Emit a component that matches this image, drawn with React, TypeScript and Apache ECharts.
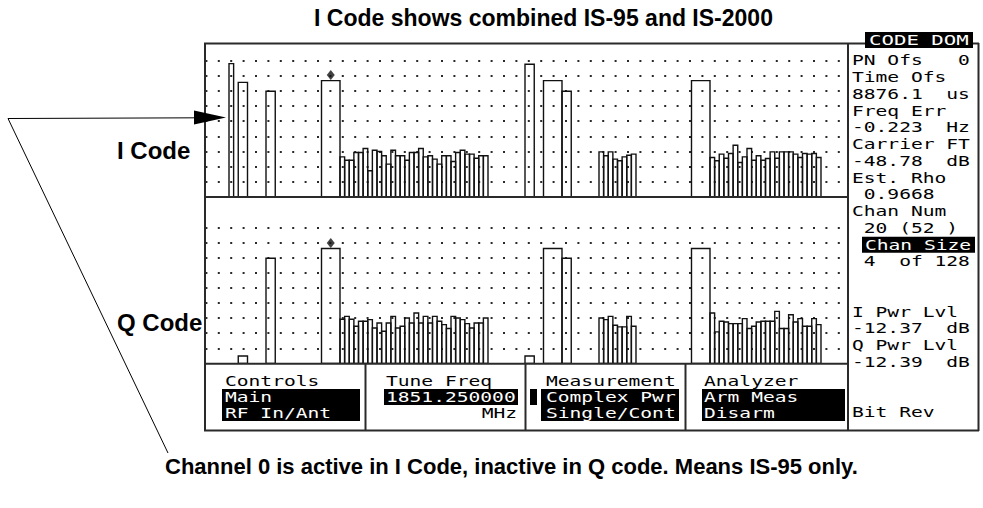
import React, { useEffect, useRef } from "react";
import * as echarts from "echarts";

// ---------- texts ----------
const TITLE = "I Code shows combined IS-95 and IS-2000";
const LABEL_I = "I Code";
const LABEL_Q = "Q Code";
const NOTE = "Channel 0 is active in I Code, inactive in Q code. Means IS-95 only.";

// ---------- code-domain data (levels in screen divisions) ----------
const X_MIN = -5.19;
const X_MAX = 133.84;

// I code: wide (multi-channel) codes
const I_WIDE_START = [0, 2, 8, 20, 64, 68, 72, 100];
const I_WIDE_SIZE = [1, 2, 2, 4, 2, 4, 2, 4];
const I_WIDE_LEVEL = [8.8, 7.56, 6.98, 7.68, 8.76, 7.68, 6.98, 7.68];
// I code: runs of single-channel codes
const I_RUN_A_START = 24;
const I_RUN_A = [2.64, 2.42, 2.42, 2.93, 2.93, 3.19, 1.72, 3.08, 2.99, 2.71, 2.16, 3.08, 2.71, 2.71, 2.42, 2.93, 2.93, 3.19, 2.64, 2.71, 2.49, 2.16, 2.71, 2.71, 2.33, 2.93, 3.08, 2.82, 2.82, 2.55, 2.71, 2.71];
const I_RUN_B_START = 80;
const I_RUN_B = [2.97, 2.71, 2.97, 2.49, 2.38, 2.64, 2.75, 2.82];
const I_RUN_C_START = 104;
const I_RUN_C = [2.6, 2.38, 2.82, 2.55, 2.86, 3.41, 2.27, 2.64, 3.19, 2.42, 2.71, 2.42, 2.53, 2.97, 2.55, 2.97, 2.97, 2.97, 2.82, 2.6, 2.86, 2.82, 2.86, 2.6];

// Q code
const Q_WIDE_START = [2, 8, 20, 64, 68, 72, 100];
const Q_WIDE_SIZE = [2, 2, 4, 2, 4, 2, 4];
const Q_WIDE_LEVEL = [0.49, 6.97, 7.62, 0.49, 7.62, 6.97, 7.62];
const Q_RUN_A_START = 24;
const Q_RUN_A = [2.93, 3.12, 2.93, 2.46, 2.79, 2.79, 2.9, 2.35, 2.68, 2.13, 2.68, 3.12, 2.35, 2.46, 3.01, 2.68, 3.34, 2.68, 3.12, 2.68, 3.12, 2.79, 2.57, 2.31, 3.12, 3.01, 2.9, 2.64, 2.35, 2.68, 2.68, 3.01];
const Q_RUN_B_START = 80;
const Q_RUN_B = [3.01, 2.9, 3.12, 2.53, 2.42, 2.42, 3.12, 2.46];
const Q_RUN_C_START = 104;
const Q_RUN_C = [3.34, 2.09, 2.79, 2.75, 2.64, 2.64, 2.64, 2.97, 2.31, 2.46, 2.75, 2.79, 2.79, 2.79, 3.45, 2.31, 2.31, 3.23, 2.75, 2.97, 2.46, 2.46, 2.97, 2.57];

// selected channel marker
const MARKER_CHANNEL = 22;
const I_MARKER_LEVEL = 8.05;
const Q_MARKER_LEVEL = 7.98;

// ---------- instrument readouts ----------
const READOUT_TEXT = ["PN Ofs   0", "Time Ofs", "8876.1  us", "Freq Err", "-0.223  Hz", "Carrier FT", "-48.78  dB", "Est. Rho", " 0.9668", "Chan Num", " 20 (52 )", " 4  of 128", "I Pwr Lvl", "-12.37  dB", "Q Pwr Lvl", "-12.39  dB", "Bit Rev"];
const READOUT_ROW = [0, 1, 2, 3, 4, 5, 6, 7, 8, 9, 10, 12, 15, 16, 17, 18, 21];
const HEADER_TEXT = "CODE DOM";
const SELECTED_TEXT = "Chan Size";
const SELECTED_ROW = 11;

const MENU_TITLES = ["Controls", "Tune Freq", "Measurement", "Analyzer"];
const MENU_ROW1 = ["Main", "1851.250000", "Complex Pwr", "Arm Meas"];
const MENU_ROW2 = ["RF In/Ant", "MHz", "Single/Cont", "Disarm"];

function buildBars(wStart: number[], wSize: number[], wLevel: number[], runs: [number, number[]][]) {
  const out: number[][] = [];
  wStart.forEach((s, i) => out.push([s, s + wSize[i], wLevel[i]]));
  runs.forEach(([s, vals]) => vals.forEach((v, i) => out.push([s + i, s + i + 1, v])));
  return out;
}

const MONO_SCALE = 1.4;
const PITCH = 8.43 * MONO_SCALE;

function mono(text: string, x: number, y: number, fill: string, sx = MONO_SCALE, align = "left") {
  return {
    type: "text",
    x,
    y,
    scaleX: sx,
    z: 20,
    style: {
      text,
      fill,
      fontSize: 14,
      fontFamily: '"DejaVu Sans Mono", monospace',
      textAlign: align,
      textVerticalAlign: "middle",
    },
  };
}

function ln(x1: number, y1: number, x2: number, y2: number, w = 2, c = "#2a2a2a") {
  return { type: "line", z: 10, shape: { x1, y1, x2, y2 }, style: { stroke: c, lineWidth: w } };
}

function box(x: number, y: number, w: number, h: number) {
  return { type: "rect", z: 15, shape: { x, y, width: w, height: h }, style: { fill: "#000" } };
}

export default function App() {
  const ref = useRef<HTMLDivElement>(null);
  useEffect(() => {
    if (!ref.current) return;
    const chart = echarts.init(ref.current, undefined, { renderer: "svg" });

    const iBars = buildBars(I_WIDE_START, I_WIDE_SIZE, I_WIDE_LEVEL, [
      [I_RUN_A_START, I_RUN_A],
      [I_RUN_B_START, I_RUN_B],
      [I_RUN_C_START, I_RUN_C],
    ]);
    const qBars = buildBars(Q_WIDE_START, Q_WIDE_SIZE, Q_WIDE_LEVEL, [
      [Q_RUN_A_START, Q_RUN_A],
      [Q_RUN_B_START, Q_RUN_B],
      [Q_RUN_C_START, Q_RUN_C],
    ]);

    const dotStyle = (n: number, hiddenFrom: number) => ({
      color: Array.from({ length: n }, (_, i) => (i === 0 || i >= hiddenFrom ? "rgba(0,0,0,0)" : "#2a2a2a")),
      width: 2,
      type: [2, 10.4],
      dashOffset: 11.8,
    });

    const barSeries = (idx: number, data: number[][]) => ({
      type: "custom",
      xAxisIndex: idx,
      yAxisIndex: idx,
      silent: true,
      data,
      encode: { x: [0, 1], y: 2 },
      renderItem: (_p: any, api: any) => {
        const a = api.coord([api.value(0), api.value(2)]);
        const b = api.coord([api.value(1), 0]);
        return {
          type: "rect",
          shape: { x: a[0], y: a[1], width: b[0] - a[0], height: b[1] - a[1] },
          style: { fill: "none", stroke: "#111", lineWidth: 1.4 },
        };
      },
    });

    const graphics: any[] = [];
    // screen frame
    graphics.push(ln(205, 43, 205, 431));
    graphics.push(ln(204, 43.5, 866, 43.5));
    graphics.push(ln(972, 43.5, 979, 43.5));
    graphics.push(ln(978.5, 43, 978.5, 431));
    graphics.push(ln(848, 43, 848, 431));
    graphics.push(ln(205, 197, 848, 197));
    graphics.push(ln(205, 363.8, 848, 363.8));
    graphics.push(ln(204, 430.5, 979, 430.5));
    graphics.push(ln(365.5, 363, 365.5, 431));
    graphics.push(ln(525.5, 363, 525.5, 431));
    graphics.push(ln(685.5, 363, 685.5, 431));

    // readout panel
    graphics.push(box(865, 32, 108, 16));
    graphics.push(mono(HEADER_TEXT, 869, 40.5, "#fff", 1.48));
    const rowY = (r: number) => 60.5 + 16.75 * r;
    READOUT_TEXT.forEach((t, i) => graphics.push(mono(t, 852, rowY(READOUT_ROW[i]), "#000")));
    graphics.push(box(862, rowY(SELECTED_ROW) - 8, 113, 16));
    graphics.push(mono(SELECTED_TEXT, 865, rowY(SELECTED_ROW), "#fff"));

    // menu area
    const colX = [225, 386, 546, 704];
    MENU_TITLES.forEach((t, i) => graphics.push(mono(t, colX[i], 381, "#000")));
    graphics.push(box(222, 389, 138, 32));
    graphics.push(box(384, 389, 134, 16));
    graphics.push(box(530, 389, 7, 16));
    graphics.push(box(541, 389, 138, 32));
    graphics.push(box(702, 389, 143, 32));
    MENU_ROW1.forEach((t, i) => graphics.push(mono(t, colX[i], 397, "#fff")));
    MENU_ROW2.forEach((t, i) => {
      if (i === 1) graphics.push(mono(t, 517, 413, "#000", MONO_SCALE, "right"));
      else graphics.push(mono(t, colX[i], 413, "#fff"));
    });
    // underlines (active choice)
    graphics.push(ln(225 + 6 * PITCH, 420, 225 + 9 * PITCH - 1, 420, 1, "#fff"));
    graphics.push(ln(546 + 7 * PITCH, 420, 546 + 11 * PITCH - 1, 420, 1, "#fff"));

    // annotations
    const bold = (text: string, x: number, y: number, size: number, align = "left") => ({
      type: "text",
      x,
      y,
      z: 20,
      style: {
        text,
        fill: "#000",
        fontSize: size,
        fontWeight: "bold",
        fontFamily: '"Liberation Sans", Arial, sans-serif',
        textAlign: align,
        textVerticalAlign: "middle",
      },
    });
    graphics.push(bold(TITLE, 543.5, 18, 23, "center"));
    graphics.push(bold(LABEL_I, 117, 150, 24));
    graphics.push(bold(LABEL_Q, 117, 322, 24));
    graphics.push(bold(NOTE, 165, 466, 22));
    graphics.push(ln(8, 118.5, 200, 117.8, 1, "#000"));
    graphics.push(ln(8, 118.5, 168, 453, 1, "#000"));
    graphics.push({
      type: "polygon",
      z: 20,
      shape: { points: [[194, 110.5], [226, 117.6], [194, 124.5]] },
      style: { fill: "#000" },
    });

    const option: any = {
      animation: false,
      backgroundColor: "#fff",
      grid: [
        { left: 205, top: 45.5, width: 643, height: 151.3 },
        { left: 205, top: 197.5, width: 643, height: 165.9 },
      ],
      xAxis: [
        { type: "value", gridIndex: 0, min: X_MIN, max: X_MAX, show: false },
        { type: "value", gridIndex: 1, min: X_MIN, max: X_MAX, show: false },
      ],
      yAxis: [
        {
          type: "value", gridIndex: 0, min: 0, max: 10, interval: 1,
          axisLine: { show: false }, axisTick: { show: false }, axisLabel: { show: false },
          splitLine: { show: true, lineStyle: dotStyle(11, 10) },
        },
        {
          type: "value", gridIndex: 1, min: 0, max: 11, interval: 1,
          axisLine: { show: false }, axisTick: { show: false }, axisLabel: { show: false },
          splitLine: { show: true, lineStyle: dotStyle(12, 10) },
        },
      ],
      series: [
        barSeries(0, iBars),
        barSeries(1, qBars),
        {
          type: "scatter", xAxisIndex: 0, yAxisIndex: 0, silent: true,
          data: [[MARKER_CHANNEL, I_MARKER_LEVEL]], symbol: "diamond", symbolSize: [8, 10],
          itemStyle: { color: "#111" },
        },
        {
          type: "scatter", xAxisIndex: 1, yAxisIndex: 1, silent: true,
          data: [[MARKER_CHANNEL, Q_MARKER_LEVEL]], symbol: "diamond", symbolSize: [8, 10],
          itemStyle: { color: "#111" },
        },
      ],
      graphic: graphics,
    };
    chart.setOption(option);
    return () => chart.dispose();
  }, []);

  return (
    <div
      ref={ref}
      style={{ position: "fixed", left: 0, top: 0, width: 983, height: 508, background: "#fff" }}
    />
  );
}
